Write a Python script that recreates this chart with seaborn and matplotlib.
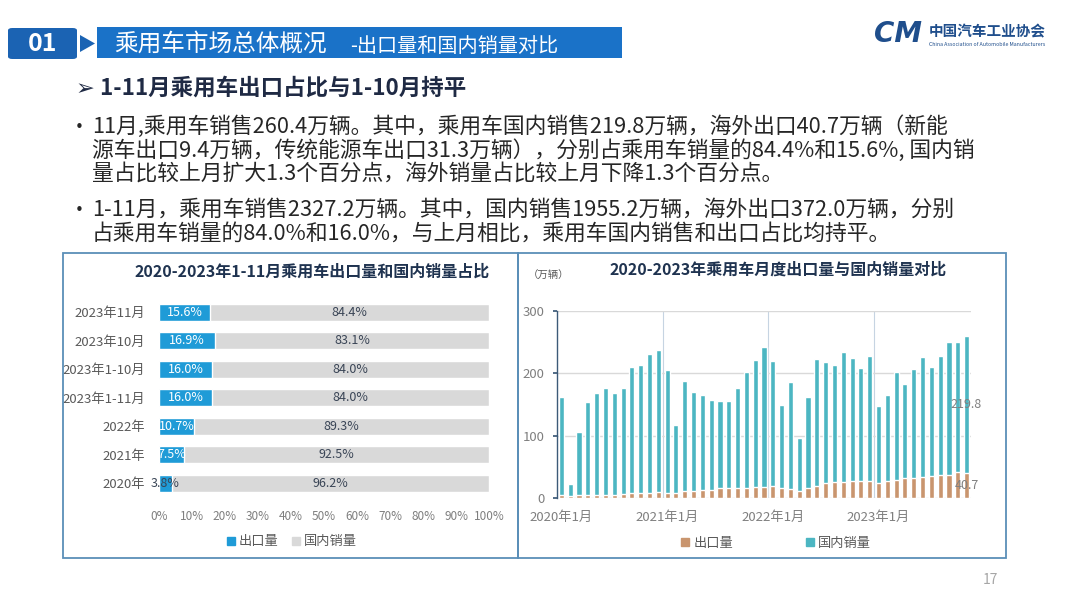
import numpy as np
import pandas as pd
import matplotlib
matplotlib.use("Agg")
import matplotlib.pyplot as plt
import seaborn as sns
from matplotlib.patches import Rectangle, Polygon, Patch, FancyBboxPatch

# ---------------- data ----------------
share_cats = ["2023年11月", "2023年10月", "2023年1-10月", "2023年1-11月", "2022年", "2021年", "2020年"]
share_export = [15.6, 16.9, 16.0, 16.0, 10.7, 7.5, 3.8]
share_domestic = [84.4, 83.1, 84.0, 84.0, 89.3, 92.5, 96.2]
share_ticks = [0, 10, 20, 30, 40, 50, 60, 70, 80, 90, 100]

months = [f"{y}年{m}月" for y in range(2020, 2024) for m in range(1, 13)][:47]
monthly_export = [6, 3, 5, 5, 5, 6, 6, 7, 8, 9, 9, 10,
                  9, 9, 11, 11, 13, 14, 16, 16, 17, 16, 18, 18,
                  19, 17, 15, 12, 16, 20, 25, 26, 26, 28, 27, 28,
                  25, 27, 30, 32, 33, 34, 36, 37, 38, 42, 40.7]
monthly_domestic = [156, 20, 101, 149, 163, 171, 162, 170, 203, 204, 222, 228,
                    196, 108, 177, 160, 153, 144, 140, 140, 160, 186, 203, 225,
                    201, 133, 172, 85, 147, 203, 194, 187, 208, 196, 182, 200,
                    123, 139, 172, 151, 174, 193, 175, 191, 212, 208, 219.8]
year_ticks = [0, 12, 24, 36]
year_tick_labels = ["2020年1月", "2021年1月", "2022年1月", "2023年1月"]
y_ticks = [0, 100, 200, 300]

title_main = "乘用车市场总体概况"
title_sub = "-出口量和国内销量对比"
heading = "➢ 1-11月乘用车出口占比与1-10月持平"
bullet_lines = [
    "11月,乘用车销售260.4万辆。其中，乘用车国内销售219.8万辆，海外出口40.7万辆（新能",
    "源车出口9.4万辆，传统能源车出口31.3万辆），分别占乘用车销量的84.4%和15.6%, 国内销",
    "量占比较上月扩大1.3个百分点，海外销量占比较上月下降1.3个百分点。",
    "1-11月，乘用车销售2327.2万辆。其中，国内销售1955.2万辆，海外出口372.0万辆，分别",
    "占乘用车销量的84.0%和16.0%，与上月相比，乘用车国内销售和出口占比均持平。",
]

# ---------------- style ----------------
sns.set_theme(style="white")
plt.rcParams["font.family"] = ["Noto Sans CJK SC", "DejaVu Sans"]

C_BLUE = "#1f9bd7"
C_GRAY = "#d9d9d9"
C_TEAL = "#4cb6c2"
C_TAN = "#c9956e"
C_NAVY = "#1f3350"
C_TICK = "#7f7f7f"

W, H = 1080, 607
fig = plt.figure(figsize=(10.8, 6.07), dpi=100)
fig.patch.set_facecolor("white")


def fx(x):
    return x / W


def fy(y):
    return 1 - y / H


# ---------------- header ----------------
fig.patches.append(FancyBboxPatch((fx(8), fy(59)), fx(77) - fx(8), (59 - 28) / H,
                                  boxstyle="round,pad=0,rounding_size=0.004",
                                  transform=fig.transFigure, facecolor="#1b63b3",
                                  edgecolor="none"))
fig.patches.append(Polygon([(fx(80), fy(35)), (fx(95), fy(43.5)), (fx(80), fy(52))],
                           closed=True, transform=fig.transFigure,
                           facecolor="#1b63b3", edgecolor="none"))
fig.patches.append(Rectangle((fx(97), fy(58)), fx(622) - fx(97), (58 - 27) / H,
                             transform=fig.transFigure, facecolor="#1a72c8",
                             edgecolor="none"))
fig.text(fx(43), fy(44), "01", color="white", fontsize=18, fontweight="bold",
         ha="center", va="center")
fig.text(fx(114), fy(44), title_main, color="white", fontsize=17,
         ha="left", va="center")
fig.text(fx(350), fy(46), title_sub, color="white", fontsize=14.5,
         ha="left", va="center")

# logo
fig.text(fx(898), fy(34), "CM", color="#1f4e8c", fontsize=20, fontweight="bold",
         fontstyle="italic", ha="center", va="center", family=["DejaVu Sans"])
fig.text(fx(929), fy(31), "中国汽车工业协会", color="#1f4e8c", fontsize=10.5,
         fontweight="bold", ha="left", va="center")
fig.text(fx(929), fy(44), "China Association of Automobile Manufacturers",
         color="#1f4e8c", fontsize=3.8, ha="left", va="center")

# heading + bullets
fig.text(fx(76), fy(88), heading, color="#1f2a44", fontsize=16.2, fontweight="bold",
         ha="left", va="center", family=["Noto Sans CJK SC", "DejaVu Sans"])
line_y = [127, 151, 174, 210, 234]
for i, (txt, yy) in enumerate(zip(bullet_lines, line_y)):
    if i in (0, 3):
        fig.text(fx(79), fy(yy), "•", color="#262626", fontsize=11,
                 ha="center", va="center", family=["DejaVu Sans"])
    fig.text(fx(92), fy(yy), txt, color="#262626", fontsize=15.7,
             ha="left", va="center")

# panel borders
for (x0, x1) in [(63, 518), (518, 1006)]:
    fig.patches.append(Rectangle((fx(x0), fy(558)), fx(x1) - fx(x0), (558 - 253) / H,
                                 transform=fig.transFigure, fill=False,
                                 edgecolor="#5a8fb8", linewidth=1.3))

fig.text(fx(990), fy(580), "17", color="#a6a6a6", fontsize=10, ha="center", va="center")

# ---------------- left chart ----------------
axL = fig.add_axes([fx(159), fy(497.5), fx(489) - fx(159), (497.5 - 298) / H])
dfL = pd.DataFrame({"cat": share_cats, "export": share_export, "domestic": share_domestic})
dfL["total"] = dfL["export"] + dfL["domestic"]
sns.barplot(data=dfL, x="total", y="cat", color=C_GRAY, width=0.6, saturation=1,
            orient="h", ax=axL)
sns.barplot(data=dfL, x="export", y="cat", color=C_BLUE, width=0.6, saturation=1,
            orient="h", ax=axL)
for i, (e, d) in enumerate(zip(share_export, share_domestic)):
    axL.text(e / 2, i, f"{e:.1f}%", color="white" if e >= 5 else "#3a4556",
             fontsize=9, ha="center", va="center")
    axL.text(e + d / 2, i, f"{d:.1f}%", color="#3a4556", fontsize=9, ha="center",
             va="center")
axL.set_xlim(0, 100)
axL.set_xticks(share_ticks)
axL.set_xticklabels([f"{t}%" for t in share_ticks])
axL.set_xlabel("")
axL.set_ylabel("")
axL.tick_params(axis="both", length=0, colors=C_TICK)
axL.tick_params(axis="x", labelsize=8.5, pad=9)
axL.tick_params(axis="y", labelsize=9.5, pad=10, labelcolor="#595959")
sns.despine(ax=axL, left=True, bottom=True)
axL.set_facecolor("none")
axL.legend(handles=[Patch(color=C_BLUE, label="出口量"), Patch(color=C_GRAY, label="国内销量")],
           loc="center", bbox_to_anchor=(fx(292), fy(542)), bbox_transform=fig.transFigure,
           ncol=2, frameon=False, handlelength=0.6, handleheight=0.6,
           handletextpad=0.3, columnspacing=1.0, fontsize=9.5, labelcolor="#595959")
fig.text(fx(312), fy(272), "2020-2023年1-11月乘用车出口量和国内销量占比", color=C_NAVY,
         fontsize=11.5, fontweight="bold", ha="center", va="center")

# ---------------- right chart ----------------
axR = fig.add_axes([fx(557), fy(498.3), (971 - 557) / W, (498.3 - 311) / H])
dfR = pd.DataFrame({"month": months, "export": monthly_export, "domestic": monthly_domestic})
dfR["total"] = dfR["export"] + dfR["domestic"]
sns.barplot(data=dfR, x="month", y="total", color=C_TEAL, width=0.58, saturation=1, ax=axR)
sns.barplot(data=dfR, x="month", y="export", color=C_TAN, width=0.58, saturation=1, ax=axR)
axR.set_xlim(-0.5, len(months) - 0.5)
axR.set_ylim(0, 300)
axR.set_yticks(y_ticks)
axR.set_xticks(year_ticks)
axR.set_xticklabels(year_tick_labels)
axR.set_xlabel("")
axR.set_ylabel("")
axR.yaxis.grid(True, color="#d9d9d9", linewidth=1)
axR.set_axisbelow(True)
for b in [11.5, 23.5, 35.5]:
    axR.axvline(b, color="#c6d4e2", linewidth=0.8, zorder=0)
for s in ["top", "right", "bottom"]:
    axR.spines[s].set_visible(False)
axR.spines["left"].set_color("#3c5a78")
axR.spines["left"].set_linewidth(1.0)
axR.tick_params(axis="y", length=3, color="#3c5a78", colors=C_TICK, labelsize=9.5,
                pad=6, left=True)
axR.tick_params(axis="x", length=0, colors=C_TICK, labelsize=9.5, pad=9)
axR.set_facecolor("none")
last = len(months) - 1
axR.text(last, monthly_export[last] + monthly_domestic[last] / 2, f"{monthly_domestic[last]}",
         color="#808080", fontsize=9, ha="center", va="center")
axR.text(last, monthly_export[last] / 2, f"{monthly_export[last]}",
         color="#808080", fontsize=9, ha="center", va="center")
axR.legend(handles=[Patch(color=C_TAN, label="出口量"), Patch(color=C_TEAL, label="国内销量")],
           loc="center", bbox_to_anchor=(fx(776), fy(543)), bbox_transform=fig.transFigure,
           ncol=2, frameon=False, handlelength=0.6, handleheight=0.6,
           handletextpad=0.3, columnspacing=5.5, fontsize=9.5, labelcolor="#595959")
fig.text(fx(778), fy(270), "2020-2023年乘用车月度出口量与国内销量对比", color=C_NAVY,
         fontsize=11.5, fontweight="bold", ha="center", va="center")
fig.text(fx(549), fy(276), "（万辆）", color="#595959", fontsize=7.5, ha="center", va="center")

fig.savefig("out.png", dpi=100)
